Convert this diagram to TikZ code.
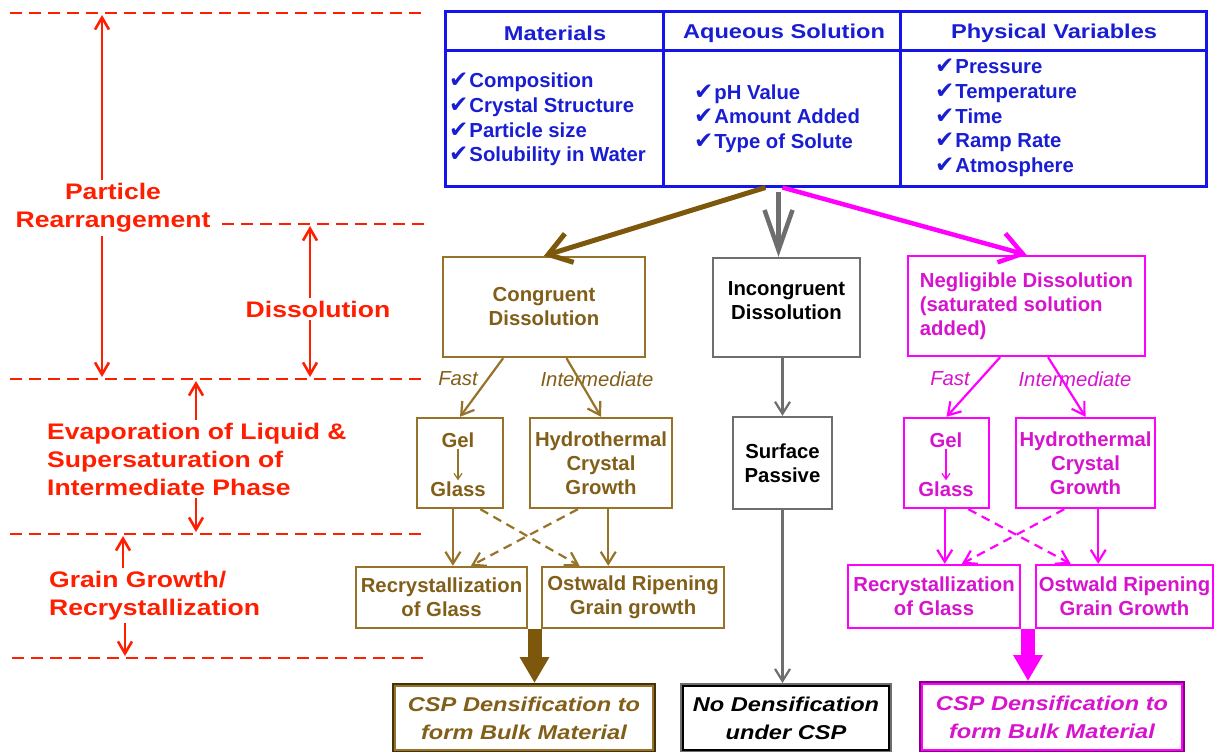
\documentclass[tikz,border=0pt]{standalone}
\usepackage{fontspec}
\setmainfont{Liberation Sans}
\newfontfamily\fA{Liberation Sans}[FakeStretch=1.18]
\newfontfamily\fCheck{DejaVu Sans}
\usetikzlibrary{arrows.meta,calc}
\definecolor{cRed}{RGB}{255,30,0}
\definecolor{cBlue}{RGB}{20,20,235}
\definecolor{cBlueT}{RGB}{25,30,210}
\definecolor{cBrown}{RGB}{150,115,40}
\definecolor{cBrownT}{RGB}{130,95,25}
\definecolor{cBrownD}{RGB}{125,88,12}
\definecolor{cBrownX}{RGB}{70,50,10}
\definecolor{cGray}{RGB}{110,110,110}
\definecolor{cMag}{RGB}{255,0,255}
\definecolor{cMagT}{RGB}{215,20,205}
\definecolor{cPurp}{RGB}{130,0,130}
\newcommand\fRed{\fA\bfseries\fontsize{22.5}{28}\selectfont}
\newcommand\fHead{\fA\bfseries\fontsize{20}{24}\selectfont}
\newcommand\fList{\bfseries\fontsize{20.3}{24.7}\selectfont}
\newcommand\fBox{\bfseries\fontsize{20.3}{24}\selectfont}
\newcommand\fIt{\itshape\fontsize{20.3}{24}\selectfont}
\newcommand\fCsp{\fA\bfseries\itshape\fontsize{20}{28}\selectfont}
\newcommand\ck{{\fCheck\fontsize{23}{23}\selectfont ✔}\hspace{1pt}}
\tikzset{
  redline/.style={draw=cRed, line width=2.6pt, dash pattern=on 12pt off 7pt},
  redarr/.style={draw=cRed, line width=2.6pt, -{Straight Barb[length=12pt,width=14pt]}},
  redlab/.style={text=cRed, font=\fRed, inner sep=3pt},
  box/.style={draw, line width=2.4pt, inner sep=0pt, align=center, font=\fBox},
  bbox/.style={box, draw=cBrown, text=cBrownT},
  gbox/.style={box, draw=cGray, text=black},
  mbox/.style={box, draw=cMag, text=cMagT},
  csp/.style={box, line width=4pt, font=\fCsp},
  txt/.style={inner sep=1pt, font=\fBox},
  lab/.style={inner sep=0pt, font=\fIt},
  list/.style={inner sep=0pt, align=left, text=cBlueT, font=\fList},
  head/.style={inner sep=0pt, text=cBlueT, font=\fHead},
  arrB/.style={draw=cBrown, line width=2.2pt, -{Straight Barb[length=12pt,width=15pt]}},
  arrM/.style={draw=cMag, line width=2.2pt, -{Straight Barb[length=12pt,width=15pt]}},
  arrG/.style={draw=cGray, line width=2.2pt, -{Straight Barb[length=12pt,width=15pt]}},
  dshB/.style={arrB, dash pattern=on 9pt off 6pt},
  dshM/.style={arrM, dash pattern=on 9pt off 6pt},
  thinB/.style={draw=cBrown, line width=1.2pt, -{Straight Barb[length=6pt,width=8pt]}},
  thinM/.style={draw=cMag, line width=1.2pt, -{Straight Barb[length=6pt,width=8pt]}},
  bigB/.style={draw=cBrownD, line width=5pt, -{Straight Barb[length=22pt,width=30pt]}},
  bigG/.style={draw=cGray, line width=4.5pt, -{Straight Barb[length=40pt,width=28pt]}},
  bigM/.style={draw=cMag, line width=4.5pt, -{Straight Barb[length=22pt,width=30pt]}},
  blkB/.style={draw=cBrownD, line width=14pt, -{Triangle[length=26pt,width=28pt]}},
  blkM/.style={draw=cMag, line width=14pt, -{Triangle[length=26pt,width=28pt]}},
}
\begin{document}
\begin{tikzpicture}[x=1pt,y=-1pt]
\fill[white] (0,0) rectangle (1218,752);
\useasboundingbox (0,0) rectangle (1218,752);

% ---------- red stage annotations ----------
\draw[redline] (10,13) -- (425,13);
\draw[redline] (222,224) -- (425,224);
\draw[redline] (10,379) -- (425,379);
\draw[redline] (10,534) -- (425,534);
\draw[redline] (12,658) -- (425,658);

\node[redlab, align=center] (pr) at (113,208) {Particle\\Rearrangement};
\node[redlab] (dis) at (318,309) {Dissolution};
\node[redlab, align=left, anchor=west] (evap) at (44,459) {Evaporation of Liquid \&\\Supersaturation of\\Intermediate Phase};
\node[redlab, align=left, anchor=west] (grain) at (46,595.5) {Grain Growth/\\Recrystallization};

\coordinate (a1) at (102,15);  \coordinate (a2) at (102,377);
\coordinate (b1) at (310,226); \coordinate (b2) at (310,377);
\coordinate (c1) at (196,381); \coordinate (c2) at (196,532);
\coordinate (d1) at (123,536); \coordinate (d2) at (125,656);
\draw[redarr] (pr.north -| a1) -- (a1);
\draw[redarr] (pr.south -| a2) -- (a2);
\draw[redarr] (dis.north -| b1) -- (b1);
\draw[redarr] (dis.south -| b2) -- (b2);
\draw[redarr] (evap.north -| c1) -- (c1);
\draw[redarr] (evap.south -| c2) -- (c2);
\draw[redarr] (grain.north -| d1) -- (d1);
\draw[redarr] (grain.south -| d2) -- (d2);

% ---------- top table ----------
\node[draw=cBlue, line width=3pt, minimum width=761, minimum height=174, inner sep=0pt] (tbl) at (825.5,99) {};
\draw[cBlue, line width=2.5pt] ($(tbl.north west)+(220,0)$) -- ($(tbl.south west)+(220,0)$);
\draw[cBlue, line width=2.5pt] ($(tbl.north west)+(457,0)$) -- ($(tbl.south west)+(457,0)$);
\draw[cBlue, line width=2.5pt] ($(tbl.north west)+(0,40)$) -- ($(tbl.north east)+(0,40)$);
\node[head] (hM) at (555,33) {Materials};
\node[head] (hA) at (784,33) {Aqueous Solution};
\node[head] (hP) at (1054,33) {Physical Variables};
\node[list, anchor=west] (lM) at (449,119.5) {\ck Composition\\\ck Crystal Structure\\\ck Particle size\\\ck Solubility in Water};
\node[list, anchor=west] (lA) at (694,118.5) {\ck pH Value\\\ck Amount Added\\\ck Type of Solute};
\node[list, anchor=west] (lP) at (935,118) {\ck Pressure\\\ck Temperature\\\ck Time\\\ck Ramp Rate\\\ck Atmosphere};

% ---------- second row ----------
\node[bbox, minimum width=202, minimum height=100] (cong) at (544,307) {Congruent\\Dissolution};
\node[gbox, minimum width=147, minimum height=99, text depth=14pt] (incg) at (786.5,307.5) {Incongruent\\Dissolution};
\node[mbox, minimum width=237, minimum height=100, align=left, xshift=-5pt] (negl) at (1031.5,306) {Negligible Dissolution\\(saturated solution\\added)};

\coordinate (tb1) at ($(tbl.south west)+(322,0)$);
\coordinate (tb2) at ($(tbl.south west)+(335,4)$);
\coordinate (tb3) at ($(tbl.south west)+(339,0)$);
\draw[bigB] (tb1) -- (cong.north);
\draw[bigG] (tb2) -- (tb2 |- incg.north);
\draw[bigM] (tb3) -- (negl.north);

% ---------- third row ----------
\node[bbox, minimum width=86, minimum height=90] (gelB) at (460,463) {};
\node[txt, text=cBrownT] (gelBt) at (458,440) {Gel};
\node[txt, text=cBrownT] (glsBt) at (458,489) {Glass};
\draw[thinB] (gelBt) -- (glsBt);
\node[bbox, minimum width=142, minimum height=90] (hydB) at (601,463) {Hydrothermal\\Crystal\\Growth};
\node[gbox, minimum width=99, minimum height=92] (surf) at (782.5,463) {Surface\\Passive};
\node[mbox, minimum width=85, minimum height=90] (gelM) at (946.5,463) {};
\node[txt, text=cMagT] (gelMt) at (946,440) {Gel};
\node[txt, text=cMagT] (glsMt) at (946,489) {Glass};
\draw[thinM] (gelMt) -- (glsMt);
\node[mbox, minimum width=139, minimum height=90] (hydM) at (1085.5,463) {Hydrothermal\\Crystal\\Growth};

\node[lab, text=cBrownT] (fB) at (458,379) {Fast};
\node[lab, text=cBrownT] (iB) at (597,379) {Intermediate};
\node[lab, text=cMagT] (fM) at (950,379) {Fast};
\node[lab, text=cMagT] (iM) at (1075,379) {Intermediate};

\draw[arrB] ($(cong.south west)!0.30!(cong.south east)$) -- (gelB.north);
\draw[arrB] ($(cong.south west)!0.61!(cong.south east)$) -- (hydB.north);
\draw[arrG] (incg.south -| surf.north) -- (surf.north);
\draw[arrM] ($(negl.south west)!0.39!(negl.south east)$) -- (gelM.north);
\draw[arrM] ($(negl.south west)!0.59!(negl.south east)$) -- (hydM.north);

% ---------- fourth row ----------
\node[bbox, minimum width=171, minimum height=61] (recB) at (441.5,597.5) {Recrystallization\\of Glass};
\node[bbox, minimum width=182, minimum height=61] (ostB) at (633,597.5) {Ostwald Ripening\\Grain growth};
\node[mbox, minimum width=172, minimum height=63] (recM) at (934,596.5) {Recrystallization\\of Glass};
\node[mbox, minimum width=177, minimum height=63] (ostM) at (1124.5,596.5) {Ostwald Ripening\\Grain Growth};

\coordinate (gB1) at ($(gelB.south west)!0.42!(gelB.south east)$);
\coordinate (hB1) at ($(hydB.south west)!0.55!(hydB.south east)$);
\draw[arrB] (gB1) -- (gB1 |- recB.north);
\draw[arrB] (hB1) -- (hB1 |- ostB.north);
\draw[dshB] ($(gelB.south west)!0.73!(gelB.south east)$) -- ($(ostB.north west)!0.21!(ostB.north east)$);
\draw[dshB] ($(hydB.south west)!0.34!(hydB.south east)$) -- ($(recB.north west)!0.67!(recB.north east)$);

\coordinate (gM1) at ($(gelM.south west)!0.48!(gelM.south east)$);
\coordinate (hM1) at ($(hydM.south west)!0.59!(hydM.south east)$);
\draw[arrM] (gM1) -- (gM1 |- recM.north);
\draw[arrM] (hM1) -- (hM1 |- ostM.north);
\draw[dshM] ($(gelM.south west)!0.75!(gelM.south east)$) -- ($(ostM.north west)!0.20!(ostM.north east)$);
\draw[dshM] ($(hydM.south west)!0.35!(hydM.south east)$) -- ($(recM.north west)!0.66!(recM.north east)$);

% ---------- bottom row ----------
\node[csp, draw=cBrownX, text=cBrownT, minimum width=260, minimum height=66] (cspB) at (524,718) {CSP Densification to\\form Bulk Material};
\draw[cBrown, line width=1.6pt] ([shift={(3,3)}]cspB.north west) rectangle ([shift={(-3,-3)}]cspB.south east);
\node[csp, draw=cGray, text=black, minimum width=208, minimum height=66] (noD) at (786,718) {No Densification\\under CSP};
\draw[black, line width=2pt] ([shift={(3,3)}]noD.north west) rectangle ([shift={(-3,-3)}]noD.south east);
\node[csp, draw=cPurp, text=cMagT, minimum width=262, minimum height=68] (cspM) at (1052,717) {CSP Densification to\\form Bulk Material};
\draw[cMag, line width=1.6pt] ([shift={(3,3)}]cspM.north west) rectangle ([shift={(-3,-3)}]cspM.south east);

\coordinate (kB) at ($(recB.south east)!0.5!(ostB.south west)$);
\coordinate (kM) at ($(recM.south east)!0.5!(ostM.south west)$);
\draw[blkB] (kB) -- (kB |- cspB.north);
\draw[blkM] (kM) -- (kM |- cspM.north);
\draw[arrG] (surf.south) -- (surf.south |- noD.north);
\end{tikzpicture}
\end{document}
